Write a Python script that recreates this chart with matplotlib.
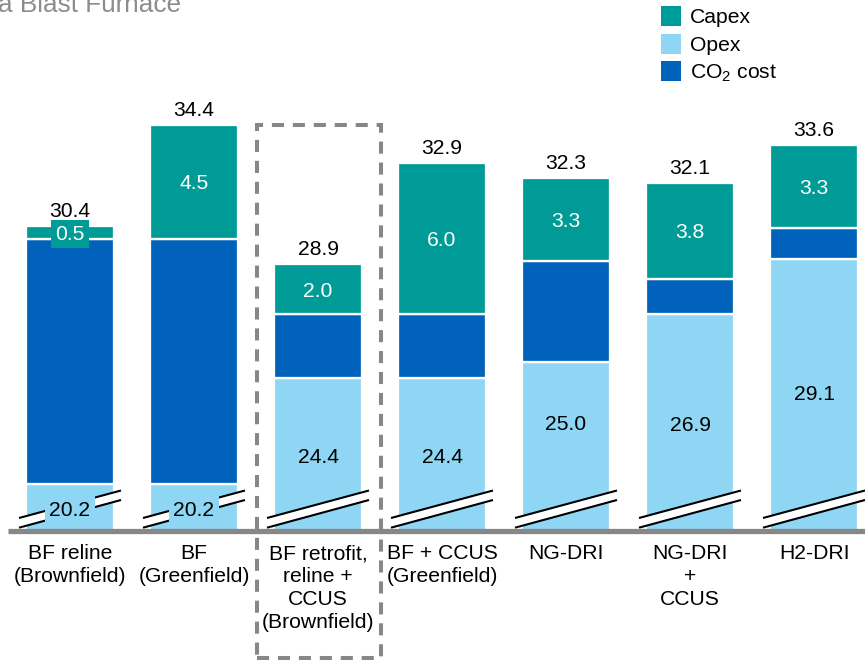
import matplotlib
matplotlib.use("Agg")
import matplotlib.pyplot as plt
from matplotlib.patches import Rectangle, Polygon

plt.rcParams['font.family'] = ['Liberation Sans', 'DejaVu Sans']
plt.rcParams['mathtext.fontset'] = 'custom'
plt.rcParams['mathtext.rm'] = 'Liberation Sans'

# ---- data ----
categories = ["BF reline\n(Brownfield)", "BF\n(Greenfield)",
              "BF retrofit,\nreline +\nCCUS\n(Brownfield)",
              "BF + CCUS\n(Greenfield)", "NG-DRI", "NG-DRI\n+\nCCUS", "H2-DRI"]
opex = [20.2, 20.2, 24.4, 24.4, 25.0, 26.9, 29.1]
co2_cost = [9.7, 9.7, 2.5, 2.5, 4.0, 1.4, 1.2]
capex = [0.5, 4.5, 2.0, 6.0, 3.3, 3.8, 3.3]
totals = [30.4, 34.4, 28.9, 32.9, 32.3, 32.1, 33.6]

# ---- style ----
C_CAPEX = '#009B96'
C_OPEX = '#8FD6F5'
C_CO2 = '#0062BA'
GRAY = '#878787'
FS = 15.2

W, H = 865, 663
fig = plt.figure(figsize=(W / 100, H / 100), dpi=100)

# pixel helpers (layout only)
X0, DX = 70.0, 124.0
Y0, S = 995.0, 25.3
def X(px):
    return (px - X0) / DX
def V(py):
    return (Y0 - py) / S

AX_BOTTOM_PX = 531
ax = fig.add_axes([0, (H - AX_BOTTOM_PX) / H, 1, AX_BOTTOM_PX / H])
ax.set_xlim(X(0), X(W))
ax.set_ylim(V(AX_BOTTOM_PX), V(0))
ax.axis('off')

n = len(categories)
xs = list(range(n))
bw = 88.3 / DX
lw = 1.65
ax.bar(xs, opex, width=bw, color=C_OPEX, edgecolor='white', linewidth=lw, zorder=2)
bot2 = [o for o in opex]
ax.bar(xs, co2_cost, bottom=bot2, width=bw, color=C_CO2, edgecolor='white', linewidth=lw, zorder=2)
bot3 = [o + c for o, c in zip(opex, co2_cost)]
ax.bar(xs, capex, bottom=bot3, width=bw, color=C_CAPEX, edgecolor='white', linewidth=lw, zorder=2)

# break marks
for i in xs:
    cpx = X0 + DX * i
    xl, xr = X(cpx - 51), X(cpx + 51)
    lo = (V(527.7), V(500.0))
    up = (V(518.0), V(490.5))
    poly = Polygon([(xl, lo[0]), (xr, lo[1]), (xr, up[1]), (xl, up[0])],
                   closed=True, facecolor='white', edgecolor='none', zorder=3, clip_on=False)
    ax.add_patch(poly)
    ax.plot([xl, xr], [lo[0], lo[1]], color='black', lw=1.5, zorder=4, clip_on=False,
            solid_capstyle='butt')
    ax.plot([xl, xr], [up[0], up[1]], color='black', lw=1.5, zorder=4, clip_on=False,
            solid_capstyle='butt')

# baseline
ax.plot([X(8), X(W)], [V(AX_BOTTOM_PX)] * 2, color=GRAY, lw=3.8, zorder=5,
        clip_on=False, solid_capstyle='butt')

# labels
BASE_OFF = 7.5  # px from visual centre of digits to baseline
opex_label_px = [508, 508, 455, 455, 422, 423, 393]
for i in xs:
    # opex
    bbox = None
    if i < 2:
        bbox = dict(boxstyle='square,pad=0.2', facecolor=C_OPEX, edgecolor='none')
    ax.text(i, V(opex_label_px[i] + BASE_OFF), f"{opex[i]:.1f}", ha='center', va='baseline',
            fontsize=FS, color='black', zorder=6, bbox=bbox)
    # capex
    cmid = bot3[i] + capex[i] / 2
    cpx = Y0 - cmid * S
    bbox = None
    if capex[i] < 1:
        bbox = dict(boxstyle='square,pad=0.2', facecolor=C_CAPEX, edgecolor='none')
    ax.text(i, V(cpx + BASE_OFF), f"{capex[i]:.1f}", ha='center', va='baseline',
            fontsize=FS, color='white', zorder=6, bbox=bbox)
    # total
    tpx = Y0 - totals[i] * S
    ax.text(i, V(tpx - 9), f"{totals[i]:.1f}", ha='center', va='baseline',
            fontsize=FS, color='black', zorder=6)
    # category
    ax.text(i, V(544), categories[i], ha='center', va='top', fontsize=FS,
            linespacing=1.26, color='black', clip_on=False)

# dashed box
def fx(px):
    return px / W
def fy(py):
    return 1 - py / H
rect = Rectangle((fx(257), fy(658)), fx(381) - fx(257), fy(125) - fy(658),
                 transform=fig.transFigure, fill=False, edgecolor=GRAY, lw=2.9,
                 linestyle=(0, (3.0, 2.2)), zorder=10, clip_on=False)
fig.patches.append(rect)

# legend
leg_items = [("Capex", C_CAPEX), ("Opex", C_OPEX), ("CO$_\\mathrm{2}$ cost", C_CO2)]
for k, (lab, col) in enumerate(leg_items):
    cy = 16 + 27.5 * k
    fig.patches.append(Rectangle((fx(661), fy(cy + 10)), fx(681) - fx(661), fy(cy - 10) - fy(cy + 10),
                                 transform=fig.transFigure, facecolor=col, edgecolor='none'))
    fig.text(fx(690), fy(cy + 7.4), lab, ha='left', va='baseline', fontsize=FS, color='black')

# cut-off title
fig.text(fx(-2), fy(12), "a Blast Furnace", ha='left', va='baseline', fontsize=18.8, color='#8C8C8C')

fig.savefig("out.png", dpi=100)
